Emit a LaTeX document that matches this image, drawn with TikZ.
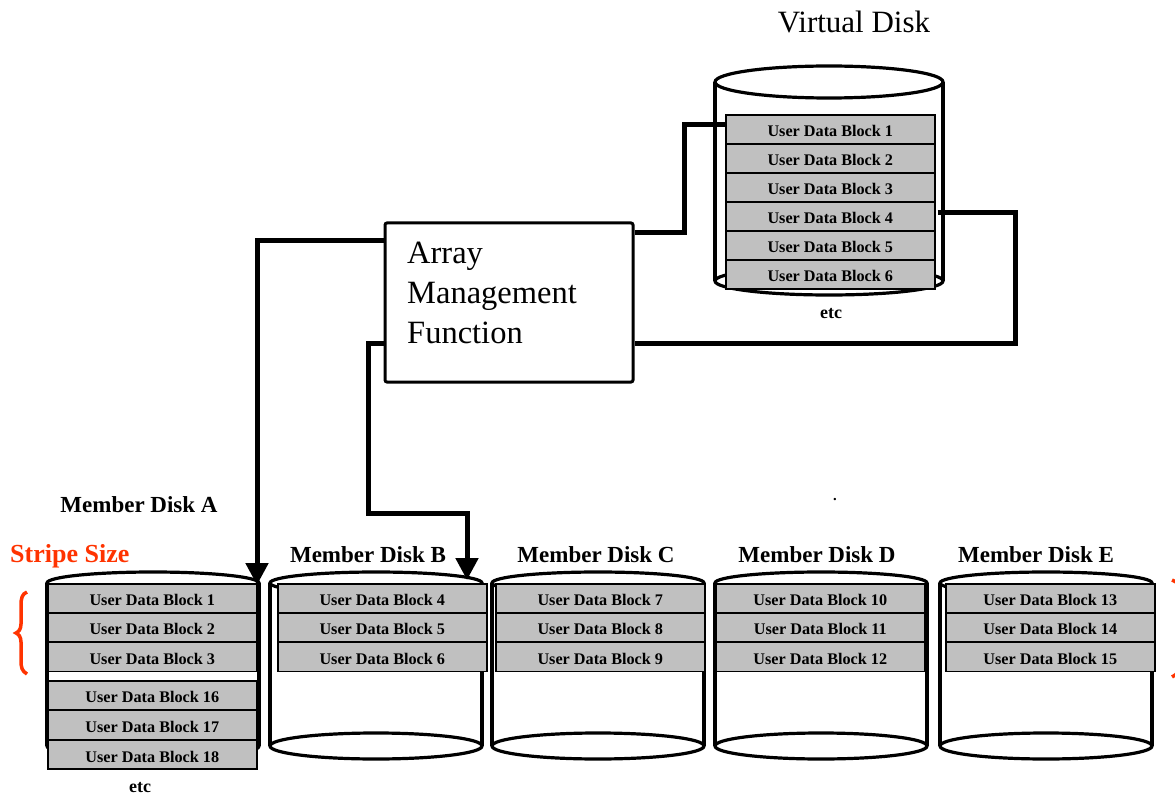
\documentclass[tikz,border=0pt]{standalone}
\usepackage{fontspec}
\setmainfont{Liberation Serif}
\usetikzlibrary{arrows.meta}
\definecolor{blockgray}{RGB}{192,192,192}
\definecolor{stripered}{RGB}{255,51,0}

\begin{document}
\begin{tikzpicture}[x=1pt,y=-1pt,
  blk/.style={draw=black, line width=1.6pt, fill=blockgray, minimum width=209pt,
    minimum height=29pt, inner sep=0pt, anchor=north west, text height=14.6pt, text depth=0pt,
    font=\fontsize{16.2}{18}\selectfont\bfseries},
  lbl/.style={inner sep=0pt, anchor=base, font=\fontsize{23}{26}\selectfont\bfseries},
  etclbl/.style={inner sep=0pt, anchor=base, font=\fontsize{18}{20}\selectfont\bfseries},
  disk/.style={line width=3.2pt},
  link/.style={line width=5pt, line join=miter},
  arr/.style={link, -{Triangle[length=22pt,width=22pt]}},
  amfbox/.style={draw, line width=3pt, rounded corners=2pt, minimum width=248pt,
    minimum height=159pt, inner sep=0pt},
]
\useasboundingbox (0,0) rectangle (1175,794);

% ---------- virtual disk ----------
\node[inner sep=0pt, anchor=base, font=\fontsize{31}{33}\selectfont] (vtitle) at (854,33) {Virtual Disk};
\draw[disk] (715,82) -- (715,281) (943,82) -- (943,281);
\draw[disk] (829,281) ellipse [x radius=114pt, y radius=14pt];
\draw[disk, fill=white] (829,82) ellipse [x radius=114pt, y radius=16pt];
\foreach \i in {1,...,6}
  \node[blk] (v\i) at (725,{114+(\i-1)*29}) {User Data Block \i};
\node[etclbl] (vetc) at (831,318) {etc};

% ---------- array management function ----------
\node[amfbox] (amf) at (509,302.5) {};
\node[inner sep=0pt, anchor=north west, align=left,
      font=\fontsize{32.5}{40}\selectfont] (amftxt) at (407,242) {Array\\Management\\Function};

% ---------- member disks ----------
\foreach \cx in {153,376,598,821,1046} {
  \draw[disk] (\cx-106,583) -- (\cx-106,746) (\cx+106,583) -- (\cx+106,746);
  \draw[disk] (\cx,746) ellipse [x radius=106pt, y radius=13pt];
  \draw[disk, fill=white] (\cx,583) ellipse [x radius=106pt, y radius=11pt];
}
\foreach \L/\n/\d in {47/1/A, 277/4/B, 495/7/C, 715/10/D, 945/13/E} {
  \foreach \k in {0,1,2} {
    \pgfmathtruncatemacro\num{\n+\k}
    \node[blk] (\d\num) at (\L,{583+\k*29.3}) {User Data Block \num};
  }
}
\foreach \k/\num in {0/16,1/17,2/18}
  \node[blk] (A\num) at (47,{680+\k*29.7}) {User Data Block \num};
\node[etclbl] (aetc) at (140,792) {etc};

\node[lbl] (lA) at (139,512) {Member Disk A};
\node[lbl] (lB) at (368,562) {Member Disk B};
\node[lbl] (lC) at (596,562) {Member Disk C};
\node[lbl] (lD) at (817,562) {Member Disk D};
\node[lbl] (lE) at (1036,562) {Member Disk E};
\node[inner sep=0pt, anchor=base, font=\fontsize{14.6}{16}\selectfont\bfseries] (dot) at (835,500) {.};

% ---------- stripe size ----------
\node[inner sep=0pt, anchor=base west, text=stripered,
      font=\fontsize{26}{28}\selectfont\bfseries] (stripe) at (10,562) {Stripe Size};
\draw[stripered, line width=3.5pt]
  (27,592) .. controls (22,594) and (21,598) .. (21,606) -- (21,624)
  .. controls (21,630) and (18,632) .. (16,633)
  .. controls (18,634) and (21,636) .. (21,642) -- (21,660)
  .. controls (21,668) and (22,671) .. (27,674);
\begin{scope}
  \clip (0,0) rectangle (1175,794);
  \draw[stripered, line width=3.5pt]
    (1172,580) .. controls (1178,582) and (1180,586) .. (1180,594) -- (1180,662)
    .. controls (1180,670) and (1178,674) .. (1172,677);
\end{scope}

% ---------- connectors ----------
\coordinate (inA) at (257,585);
\coordinate (inB) at (467,580);
\draw[arr] (amf.west |- 0,241) -| (inA);
\draw[arr] (amf.west |- 0,343) -| (368,513) -| (inB);
\draw[link] (amf.east |- 0,233) -| ([xshift=-41pt,yshift=4.5pt]v1.west) -- ([yshift=4.5pt]v1.west);
\draw[link] ([xshift=2pt,yshift=4pt]v4.east) -| (1015,343) -- (amf.east |- 0,343);
\end{tikzpicture}
\end{document}
